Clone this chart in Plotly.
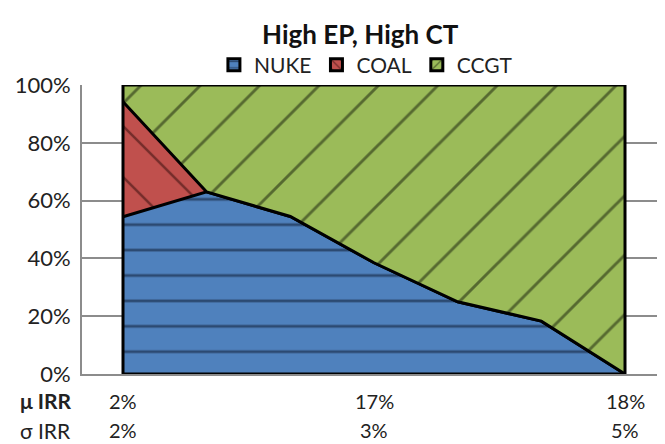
import plotly.graph_objects as go

# ---- data ----
positions = [0, 1, 2, 3, 4, 5, 6]
mu_irr = ["2%", "", "", "17%", "", "", "18%"]
sigma_irr = ["2%", "", "", "3%", "", "", "5%"]
nuke = [54.4, 63.0, 54.5, 38.5, 25.0, 18.3, 0.0]
coal = [39.8, 0.0, 0.0, 0.0, 0.0, 0.0, 0.0]
ccgt = [5.8, 37.0, 45.5, 61.5, 75.0, 81.7, 100.0]
y_ticks = [0, 20, 40, 60, 80, 100]
y_tick_labels = ["0%", "20%", "40%", "60%", "80%", "100%"]

FONT = "Lato"
fig = go.Figure()

series = [
    ("NUKE", nuke, "#4F81BD", "#0A1428", "-", 25.4, 0.11),
    ("COAL", coal, "#C0504D", "#2A0807", "\\", 36, 0.07),
    ("CCGT", ccgt, "#9BBB59", "#111808", "/", 42, 0.07),
]
for name, vals, col, fg, shape, size, sol in series:
    fig.add_trace(go.Scatter(
        x=positions, y=vals, name=name, mode="lines",
        stackgroup="one", showlegend=False,
        line=dict(color="black", width=3),
        fillcolor=col,
        fillpattern=dict(shape=shape, fgcolor=fg, bgcolor=col, size=size, solidity=sol),
    ))
# legend entries (square swatches)
for name, vals, col, fg, shape, size, sol in series:
    fig.add_trace(go.Bar(
        x=[None], y=[None], name=name,
        marker=dict(color=col, line=dict(color="black", width=3),
                    pattern=dict(shape=shape, fgcolor=fg, bgcolor=col, size=8, solidity=0.2)),
    ))

# outline of the area block (left, right, bottom edges)
x0, x1 = positions[0], positions[-1]
top = y_ticks[-1]
fig.add_trace(go.Scatter(
    x=[x0, x0, None, x1, x1, None, x0, x1],
    y=[0, top, None, 0, top, None, 0, 0],
    mode="lines", line=dict(color="black", width=3),
    showlegend=False, hoverinfo="skip",
))

# bottom table labels
ROW1, ROW2 = -0.093, -0.194
TFS = 20
for i, (m, s) in enumerate(zip(mu_irr, sigma_irr)):
    if m:
        fig.add_annotation(x=positions[i], y=ROW1, xref="x", yref="paper",
                           text=m, showarrow=False, xanchor="center", yanchor="middle",
                           font=dict(family=FONT, size=TFS, color="#222"))
    if s:
        fig.add_annotation(x=positions[i], y=ROW2, xref="x", yref="paper",
                           text=s, showarrow=False, xanchor="center", yanchor="middle",
                           font=dict(family=FONT, size=TFS, color="#222"))
fig.add_annotation(x=-0.11, y=ROW1, xref="paper", yref="paper", text="<b>μ IRR</b>",
                   showarrow=False, xanchor="left", yanchor="middle",
                   font=dict(family=FONT, size=TFS + 1, color="#222"))
fig.add_annotation(x=-0.11, y=ROW2, xref="paper", yref="paper", text="σ IRR",
                   showarrow=False, xanchor="left", yanchor="middle",
                   font=dict(family=FONT, size=TFS + 1, color="#222"))

# page body has an 8px margin: figure is 657x436 placed at (8, 8)
fig.update_layout(
    width=657, height=436,
    margin=dict(l=74, r=0, t=77, b=70),
    paper_bgcolor="white", plot_bgcolor="white",
    title=dict(text="<b>High EP, High CT</b>", x=0.536, xanchor="center",
               y=1 - 27 / 436, yref="container", yanchor="middle",
               font=dict(family=FONT, size=26, color="#111")),
    legend=dict(orientation="h", x=0.487, xanchor="center", y=1.069, yanchor="middle",
                font=dict(family=FONT, size=21, color="#222"), traceorder="normal",
                itemwidth=30, bgcolor="rgba(0,0,0,0)"),
    xaxis=dict(range=[-0.49, 6.478], showgrid=False, zeroline=False,
               showticklabels=False, showline=True, linecolor="#8c8c8c", linewidth=2),
    yaxis=dict(range=[0, 100], tickvals=y_ticks, ticktext=y_tick_labels, showgrid=True,
               gridcolor="#8c8c8c", gridwidth=1.5, zeroline=False,
               showline=True, linecolor="#8c8c8c", linewidth=2,
               tickfont=dict(family=FONT, size=22, color="#222"), ticklabelstandoff=5),
    showlegend=True,
)

fig.write_html("out.html")
